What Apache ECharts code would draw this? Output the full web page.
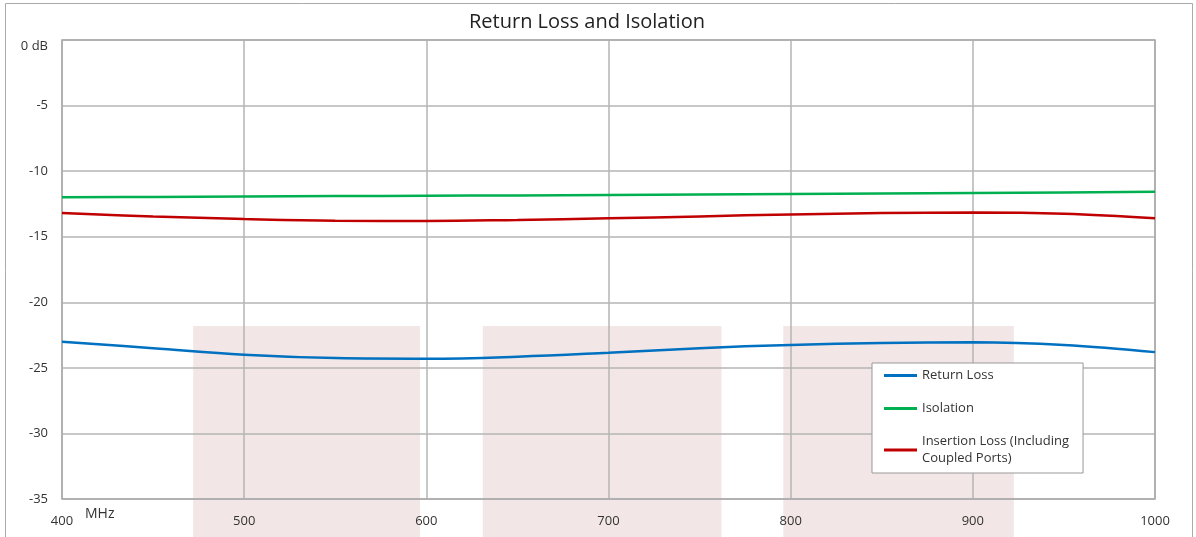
<!DOCTYPE html>
<html><head><meta charset="utf-8">
<script src="https://cdn.jsdelivr.net/npm/echarts@6/dist/echarts.min.js"></script>
<style>html,body{margin:0;padding:0;background:#fff}#c{width:1196px;height:537px}</style>
</head><body><div id="c"></div>
<script>
const freqs = [400, 450, 500, 550, 600, 650, 700, 750, 800, 850, 900, 950, 1000];
const returnLoss = [-23.0, -23.5, -24.0, -24.25, -24.3, -24.15, -23.85, -23.5, -23.25, -23.1, -23.05, -23.25, -23.8];
const isolation = [-12.0, -11.97, -11.93, -11.9, -11.88, -11.85, -11.82, -11.78, -11.74, -11.7, -11.66, -11.62, -11.58];
const insertionLoss = [-13.2, -13.45, -13.65, -13.78, -13.8, -13.72, -13.6, -13.45, -13.3, -13.2, -13.15, -13.25, -13.6];
const seriesNames = ['Return Loss', 'Isolation', 'Insertion Loss (Including Coupled Ports)'];
const yTicks = ['0 dB', '-5', '-10', '-15', '-20', '-25', '-30', '-35'];
// shaded bands: [startMHz, endMHz, top dB]
const bands = [[472, 596.5, -21.8], [631, 762, -21.8], [796, 922.5, -21.8]];

const pair = (xs, ys) => xs.map((x, i) => [x, ys[i]]);
const font = '"Open Sans", "Noto Sans", sans-serif';
const chart = echarts.init(document.getElementById('c'));
const colors = ['#0070c0', '#00b050', '#c00000'];
const option = {
  animation: false,
  title: { text: 'Return Loss and Isolation', left: 464, top: 7,
    textStyle: { fontFamily: font, fontSize: 20, fontWeight: 'normal', color: '#222' } },
  grid: { left: 62, right: 41, top: 40, bottom: 38, show: true, borderColor: '#aaa', borderWidth: 1.5, z: 1 },
  legend: {
    orient: 'vertical', left: 872, top: 363,
    backgroundColor: '#fff', borderColor: '#999', borderWidth: 1,
    padding: [4, 14, 6, 12], itemGap: 16, itemWidth: 33, itemHeight: 3, icon: 'rect',
    align: 'left',
    textStyle: { fontFamily: font, fontSize: 13, color: '#333', lineHeight: 17 },
    formatter: n => n.replace('(Including ', '(Including\n'),
    data: seriesNames
  },
  xAxis: {
    type: 'value', min: 400, max: 1000, interval: 100,
    axisLine: { show: false }, axisTick: { show: false },
    splitLine: { lineStyle: { color: '#b4b4b4', width: 1.5 } },
    axisLabel: { margin: 16, fontFamily: font, fontSize: 13, color: '#333', formatter: v => String(v) }
  },
  yAxis: {
    type: 'value', min: -35, max: 0, interval: 5,
    axisLine: { show: false }, axisTick: { show: false },
    splitLine: { lineStyle: { color: '#b4b4b4', width: 1.5 } },
    axisLabel: { margin: 14, fontFamily: font, fontSize: 13, color: '#333',
      formatter: v => v === 0 ? '{top|' + yTicks[0] + '}' : yTicks[Math.round(-v / 5)],
      rich: { top: { fontFamily: font, fontSize: 13, color: '#333', padding: [12, 0, 0, 0] } } }
  },
  series: [
    { name: seriesNames[0], data: pair(freqs, returnLoss) },
    { name: seriesNames[1], data: pair(freqs, isolation) },
    { name: seriesNames[2], data: pair(freqs, insertionLoss) }
  ].map((s, i) => Object.assign({ type: 'line', smooth: 0.4, showSymbol: false, z: 5,
    color: colors[i], lineStyle: { width: 2.5, color: colors[i] } }, s))
};
chart.setOption(option);
const g = [];
bands.forEach(b => {
  const p1 = chart.convertToPixel({ gridIndex: 0 }, [b[0], b[2]]);
  const p2 = chart.convertToPixel({ gridIndex: 0 }, [b[1], b[2]]);
  g.push({ type: 'rect', z: -10, silent: true,
    shape: { x: p1[0], y: p1[1], width: p2[0] - p1[0], height: 537 - p1[1] },
    style: { fill: '#f2e6e6' } });
});
g.push({ type: 'rect', z: 100, silent: true, shape: { x: 5.5, y: 3.5, width: 1187, height: 600 },
  style: { fill: 'none', stroke: '#aaa', lineWidth: 1 } });
g.push({ type: 'text', z: 100, left: 85, top: 507,
  style: { text: 'MHz', fontFamily: font, fontSize: 14, fill: '#333' } });
chart.setOption({ graphic: g });
</script></body></html>
